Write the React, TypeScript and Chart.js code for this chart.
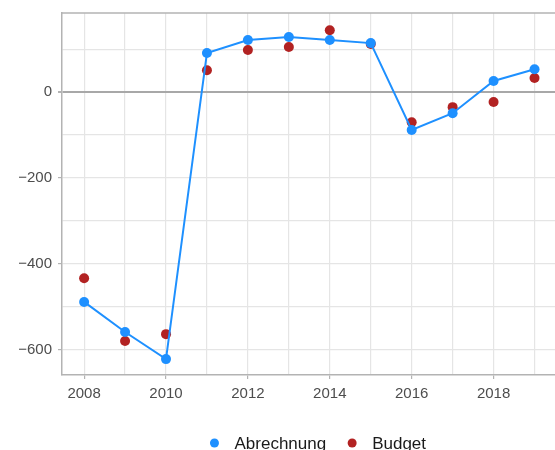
import React, { useEffect, useRef } from "react";
import { Chart, registerables } from "chart.js";

Chart.register(...registerables);

const years = [2008, 2009, 2010, 2011, 2012, 2013, 2014, 2015, 2016, 2017, 2018, 2019];
const abrechnung = [-488, -558, -621, 91, 121, 128, 121, 114, -88, -49, 26, 53];
const budget = [-433, -579, -563, 51, 98, 105, 144, 112, -70, -35, -23, 33];
const yTickValues = [-600, -500, -400, -300, -200, -100, 0, 100];
const xTickValues = years;
const seriesNames = ["Abrechnung", "Budget"];
const seriesColors = ["#1E90FF", "#B22222"];

const FONT = "'Liberation Sans', Arial, sans-serif";

const topLinePlugin = {
  id: "topLine",
  afterDraw(chart: any) {
    const { ctx, chartArea } = chart;
    ctx.save();
    ctx.strokeStyle = "#b3b3b3";
    ctx.lineWidth = 1.5;
    ctx.beginPath();
    ctx.moveTo(chartArea.left - 1, chartArea.top);
    ctx.lineTo(chartArea.right, chartArea.top);
    ctx.stroke();
    ctx.restore();
  },
};

const legendPlugin = {
  id: "customLegend",
  afterDraw(chart: any) {
    const { ctx, chartArea } = chart;
    ctx.save();
    ctx.font = `17px ${FONT}`;
    const r = 4.5;
    const gapText = 20;
    const gapItem = 26;
    const widths = seriesNames.map((n) => ctx.measureText(n).width);
    let total = 0;
    widths.forEach((w, i) => {
      total += r + gapText + w;
      if (i < widths.length - 1) total += gapItem;
    });
    total += r;
    const center = (chartArea.left + chartArea.right) / 2 + 14;
    let x = center - total / 2 + r;
    const y = 443;
    seriesNames.forEach((n, i) => {
      ctx.fillStyle = seriesColors[i];
      ctx.beginPath();
      ctx.arc(x, y, r, 0, Math.PI * 2);
      ctx.fill();
      ctx.fillStyle = "#1a1a1a";
      ctx.textBaseline = "alphabetic";
      ctx.textAlign = "left";
      ctx.fillText(n, x + gapText, 449);
      x += gapText + widths[i] + gapItem;
    });
    ctx.restore();
  },
};

export default function App() {
  const ref = useRef<HTMLCanvasElement>(null);
  useEffect(() => {
    if (!ref.current) return;
    const chart = new Chart(ref.current, {
      type: "line",
      data: {
        datasets: [
          {
            label: seriesNames[0],
            data: years.map((x, i) => ({ x, y: abrechnung[i] })),
            borderColor: seriesColors[0],
            backgroundColor: seriesColors[0],
            pointBackgroundColor: seriesColors[0],
            pointBorderWidth: 0,
            pointRadius: 5,
            borderWidth: 2,
            showLine: true,
          },
          {
            label: seriesNames[1],
            data: years.map((x, i) => ({ x, y: budget[i] })),
            borderColor: seriesColors[1],
            backgroundColor: seriesColors[1],
            pointBackgroundColor: seriesColors[1],
            pointBorderWidth: 0,
            pointRadius: 5,
            showLine: false,
          },
        ],
      },
      options: {
        animation: false,
        responsive: false,
        layout: { autoPadding: false, padding: { top: 13, right: 0, left: 0, bottom: 37 } },
        scales: {
          x: {
            type: "linear",
            min: 2007.46,
            max: 2019.5,
            afterBuildTicks: (s: any) => {
              s.ticks = xTickValues.map((v) => ({ value: v }));
            },
            afterFit: (s: any) => {
              s.height = 38;
              s.paddingLeft = 0;
              s.paddingRight = 0;
            },
            ticks: {
              autoSkip: false,
              maxRotation: 0,
              color: "#4d4d4d",
              font: { family: FONT, size: 15 },
              padding: 6,
              callback: (v: any) => (Number(v) % 2 === 0 ? String(v) : ""),
            },
            grid: {
              color: "#e5e5e5",
              lineWidth: 1.2,
              tickLength: 4,
              tickColor: (c: any) => (c.tick && c.tick.value % 2 === 0 ? "#b3b3b3" : "rgba(0,0,0,0)"),
            },
            border: { color: "#b3b3b3", width: 1.5 },
          },
          y: {
            min: -658,
            max: 184,
            afterBuildTicks: (s: any) => {
              s.ticks = yTickValues.map((v) => ({ value: v }));
            },
            afterFit: (s: any) => {
              s.width = 62;
              s.paddingTop = 0;
              s.paddingBottom = 0;
            },
            ticks: {
              color: "#4d4d4d",
              font: { family: FONT, size: 15 },
              padding: 6,
              callback: (v: any) => (Number(v) % 200 === 0 ? (Number(v) < 0 ? "\u2212" + Math.abs(Number(v)) : String(v)) : ""),
            },
            grid: {
              color: (c: any) => (c.tick && c.tick.value === 0 ? "#a8a8a8" : "#e5e5e5"),
              lineWidth: (c: any) => (c.tick && c.tick.value === 0 ? 2 : 1.2),
              tickLength: 4,
              tickColor: (c: any) => (c.tick && c.tick.value % 200 === 0 ? "#b3b3b3" : "rgba(0,0,0,0)"),
            },
            border: { color: "#b3b3b3", width: 1.5 },
          },
        },
        plugins: {
          legend: { display: false },
          tooltip: { enabled: false },
        },
      },
      plugins: [topLinePlugin, legendPlugin],
    });
    return () => chart.destroy();
  }, []);
  return (
    <div style={{ position: "fixed", left: 0, top: 0, width: 555, height: 450, background: "#fff" }}>
      <canvas ref={ref} width={555} height={450} />
    </div>
  );
}
